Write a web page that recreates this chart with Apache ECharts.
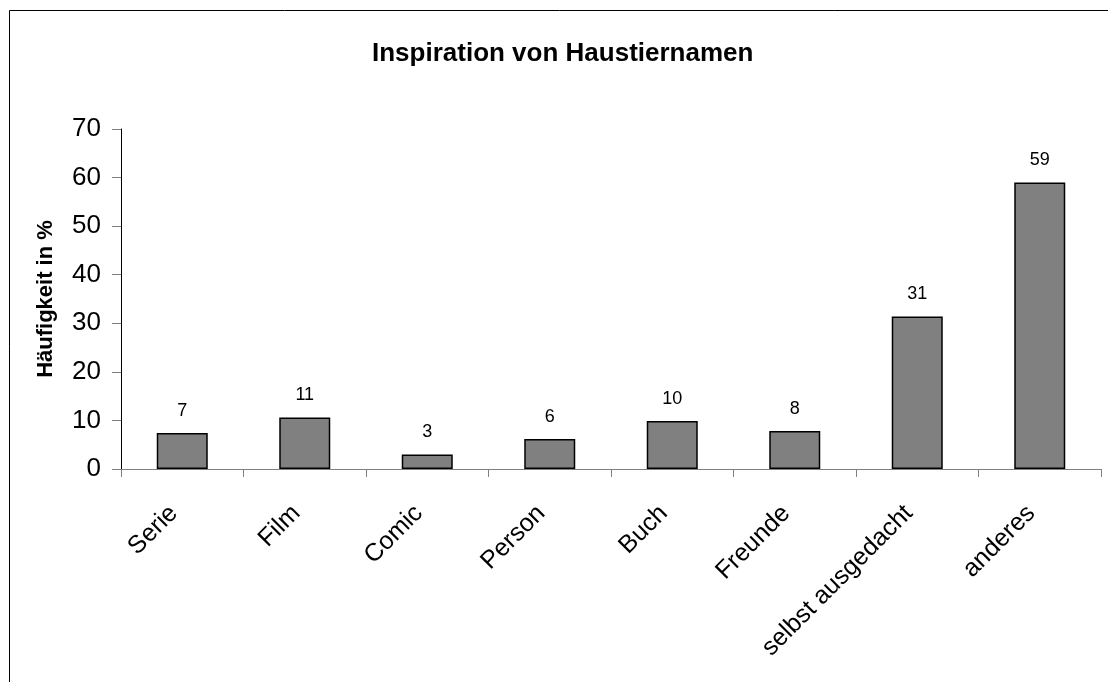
<!DOCTYPE html>
<html>
<head>
<meta charset="utf-8">
<script src="https://cdn.jsdelivr.net/npm/echarts@6/dist/echarts.min.js"></script>
<style>
html,body{margin:0;padding:0;background:#fff;}
#chart{width:1108px;height:682px;}
</style>
</head>
<body>
<div id="chart"></div>
<script>
const categories = ['Serie', 'Film', 'Comic', 'Person', 'Buch', 'Freunde', 'selbst ausgedacht', 'anderes'];
const values = [7.4, 10.6, 3.0, 6.2, 9.9, 7.8, 31.4, 59.0];
const yTicks = [0, 10, 20, 30, 40, 50, 60, 70];

const FONT = 'Arial, "Liberation Sans", sans-serif';
const chart = echarts.init(document.getElementById('chart'), null, {renderer: 'canvas'});
chart.setOption({
  backgroundColor: '#fff',
  animation: false,
  title: {
    text: 'Inspiration von Haustiernamen',
    left: 367,
    top: 36,
    textStyle: {fontFamily: FONT, fontSize: 26, fontWeight: 'bold', color: '#000'}
  },
  grid: {left: 121, right: 7, top: 129, bottom: 213, containLabel: false},
  xAxis: {
    type: 'category',
    data: categories,
    boundaryGap: true,
    axisLine: {lineStyle: {color: '#808080', width: 1}},
    axisTick: {show: true, length: 8, inside: false, lineStyle: {color: '#808080'}},
    axisLabel: {
      interval: 0, rotate: 45, margin: 32, fontSize: 25, fontFamily: FONT, color: '#000',
      padding: [0, 12, 0, 0]
    }
  },
  yAxis: {
    type: 'value',
    min: yTicks[0], max: yTicks[yTicks.length - 1], interval: 10,
    name: 'Häufigkeit in %',
    nameLocation: 'middle',
    nameGap: 64,
    nameTextStyle: {fontFamily: FONT, fontSize: 22, fontWeight: 'bold', color: '#000'},
    axisLine: {show: true, lineStyle: {color: '#000', width: 1}},
    axisTick: {show: true, length: 9, lineStyle: {color: '#808080'}},
    axisLabel: {margin: 20, fontSize: 26, fontFamily: FONT, color: '#000'},
    splitLine: {show: false}
  },
  series: [{
    type: 'bar',
    data: values,
    barWidth: 51,
    itemStyle: {color: '#808080', borderColor: '#000', borderWidth: 1.5},
    label: {
      show: true, position: 'top', distance: 13,
      fontFamily: FONT, fontSize: 18, color: '#000',
      formatter: p => String(Math.round(p.value))
    }
  }],
  graphic: [{
    type: 'rect',
    shape: {x: 9.5, y: 10.5, width: 1200, height: 1000},
    style: {fill: 'none', stroke: '#000', lineWidth: 1},
    silent: true, z: 100
  }]
});
</script>
</body>
</html>
